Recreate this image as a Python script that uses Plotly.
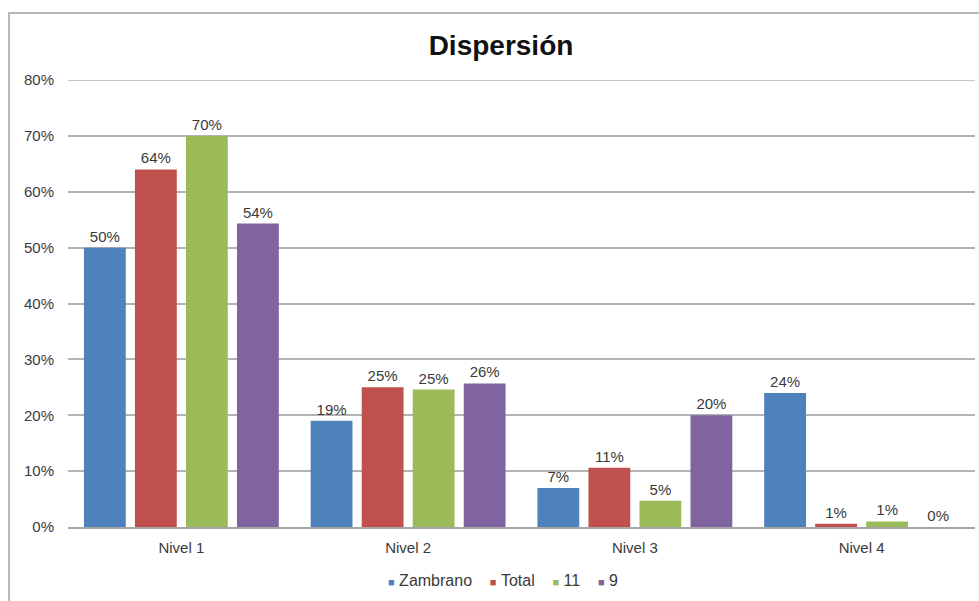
import plotly.graph_objects as go

# Categories and series (proportions)
niveles = ["Nivel 1", "Nivel 2", "Nivel 3", "Nivel 4"]
zambrano = [0.50, 0.19, 0.07, 0.24]
total = [0.64, 0.25, 0.106, 0.006]
grado_11 = [0.70, 0.246, 0.047, 0.01]
grado_9 = [0.543, 0.257, 0.20, 0.0]

series_names = ["Zambrano", "Total", "11", "9"]
series_values = [zambrano, total, grado_11, grado_9]
series_colors = ["#4F81BD", "#C0504D", "#9BBB59", "#8064A2"]

y_ticks = [0, 0.1, 0.2, 0.3, 0.4, 0.5, 0.6, 0.7, 0.8]

FONT = "Liberation Sans, Arial, sans-serif"
TEXT_COLOR = "#3a3a3a"
GRID_COLOR = "#b3b3b3"

fig = go.Figure()
for name, vals, color in zip(series_names, series_values, series_colors):
    fig.add_trace(go.Bar(
        x=niveles,
        y=vals,
        name=name,
        marker=dict(color=color, line=dict(width=0)),
        texttemplate="%{y:.0%}",
        textposition="outside",
        cliponaxis=False,
        textfont=dict(family=FONT, size=15, color=TEXT_COLOR),
        showlegend=False,
    ))

fig.update_layout(
    width=979,
    height=601,
    margin=dict(l=68, r=4, t=80, b=74),
    paper_bgcolor="white",
    plot_bgcolor="white",
    barmode="group",
    bargap=0.10,
    bargroupgap=0.18,
    title=dict(
        text="<b>Dispersión</b>",
        x=501 / 979,
        xanchor="center",
        y=1 - 45 / 601,
        yanchor="middle",
        font=dict(family=FONT, size=28, color="#111111"),
    ),
    font=dict(family=FONT, size=15, color=TEXT_COLOR),
    showlegend=False,
    uniformtext=dict(minsize=15, mode=False),
)

fig.update_yaxes(
    range=[0, y_ticks[-1]],
    tickvals=y_ticks,
    tickformat=".0%",
    showgrid=True,
    gridcolor=GRID_COLOR,
    gridwidth=1.5,
    zeroline=False,
    showline=False,
    ticks="",
    ticklabelstandoff=13,
    tickfont=dict(family=FONT, size=15, color=TEXT_COLOR),
)

fig.update_xaxes(
    showgrid=False,
    showline=True,
    linecolor="#a6a6a6",
    linewidth=1.5,
    ticks="",
    ticklabelstandoff=6,
    tickfont=dict(family=FONT, size=15, color=TEXT_COLOR),
)

# Top gridline sits on the plot edge, so draw it explicitly
fig.add_shape(
    type="line",
    xref="paper",
    yref="y",
    x0=0,
    x1=1,
    y0=y_ticks[-1],
    y1=y_ticks[-1],
    line=dict(color=GRID_COLOR, width=1.5),
    layer="below",
)

# Compact legend: small coloured squares followed by the series names
legend_parts = [
    f'<span style="color:{c};font-size:11px">■</span>&nbsp;{n}'
    for n, c in zip(series_names, series_colors)
]
fig.add_annotation(
    text="&nbsp;&nbsp;&nbsp;&nbsp;".join(legend_parts),
    xref="paper",
    yref="paper",
    x=(503 - 68) / 907,
    y=-(580 - 527) / 447,
    xanchor="center",
    yanchor="middle",
    showarrow=False,
    font=dict(family=FONT, size=16, color=TEXT_COLOR),
)

# Outer chart frame (left and top edges)
fig.add_shape(
    type="path",
    xref="paper",
    yref="paper",
    path="M -0.065,-0.2 L -0.065,1.15 L 1.01,1.15",
    line=dict(color="#b8b8b8", width=2),
    layer="below",
)

fig.write_html("out.html")
